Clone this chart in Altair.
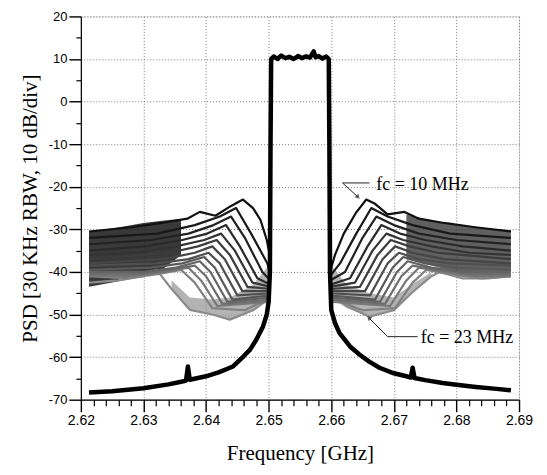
import altair as alt
import pandas as pd

# ---------------- axis values ----------------
X_MAJOR = [2.62, 2.63, 2.64, 2.65, 2.66, 2.67, 2.68, 2.69]
X_MINOR = [2.622, 2.624, 2.626, 2.628, 2.632, 2.634, 2.636, 2.638,
           2.642, 2.644, 2.646, 2.648, 2.652, 2.654, 2.656, 2.658,
           2.662, 2.664, 2.666, 2.668, 2.672, 2.674, 2.676, 2.678,
           2.682, 2.684, 2.686, 2.688]
Y_MAJOR = [-70, -60, -50, -40, -30, -20, -10, 0, 10, 20]
Y_MINOR = [-65, -55, -45, -35, -25, -15, -5, 5, 15]

# ---------------- main PSD (black) ----------------
MAIN_X = [2.6213, 2.6250, 2.6300, 2.6340, 2.6360, 2.6368, 2.6371, 2.6374, 2.6400, 2.6420,
          2.6443, 2.6460, 2.6470, 2.6480, 2.6491, 2.6497, 2.6500, 2.6502, 2.6503, 2.6504,
          2.6508, 2.6514, 2.6520, 2.6527, 2.6533, 2.6540, 2.6547, 2.6553, 2.6560, 2.6566,
          2.6572, 2.6575, 2.6580, 2.6586, 2.6592, 2.6596,
          2.6597, 2.6598, 2.6600, 2.6606, 2.6613, 2.6630, 2.6645, 2.6660, 2.6677, 2.6700,
          2.6720, 2.6727, 2.6730, 2.6733, 2.6750, 2.6778, 2.6800, 2.6831, 2.6860, 2.6887]
MAIN_Y = [-68.3, -68.0, -67.3, -66.4, -65.8, -65.5, -62.2, -65.3, -64.5, -63.6,
          -62.2, -59.8, -58.3, -56.0, -52.8, -50.0, -47.0, -40.0, -10.0, 10.0,
          10.6, 10.0, 10.8, 10.2, 10.5, 10.0, 10.7, 10.2, 10.6, 10.3,
          11.8, 10.4, 10.7, 10.1, 10.6, 10.0,
          -10.0, -40.0, -48.9, -52.0, -54.3, -57.5, -59.4, -61.0, -62.5, -63.8,
          -64.5, -64.8, -62.5, -64.9, -65.4, -66.1, -66.5, -67.0, -67.4, -67.8]

# ---------------- spectra for fc = 10 ... 23 MHz (right side) ----------------
RIGHT = {
    10: ([2.6598, 2.6606, 2.6620, 2.6640, 2.6656, 2.6670, 2.6690, 2.6717, 2.6740, 2.6780, 2.6830, 2.6887],
         [-40, -36, -31, -26, -23, -24, -26.5, -25.9, -27.5, -28.5, -29.5, -30.5]),
    11: ([2.6598, 2.6614, 2.6640, 2.6664, 2.6690, 2.6730, 2.6790, 2.6887],
         [-41, -38, -31, -25, -27, -29, -31, -32]),
    12: ([2.6598, 2.6622, 2.6650, 2.6672, 2.6700, 2.6740, 2.6800, 2.6887],
         [-42, -40, -32, -27, -29, -31, -32.5, -33.5]),
    13: ([2.6598, 2.6630, 2.6658, 2.6680, 2.6710, 2.6750, 2.6810, 2.6887],
         [-43, -41.5, -34, -29, -31, -32.5, -34, -35]),
    14: ([2.6598, 2.6638, 2.6666, 2.6688, 2.6715, 2.6760, 2.6820, 2.6887],
         [-43.5, -42.5, -35, -31, -32.5, -34, -35.5, -36]),
    15: ([2.6598, 2.6646, 2.6674, 2.6695, 2.6725, 2.6770, 2.6887],
         [-44, -43.5, -36, -32.5, -34, -35.5, -37]),
    16: ([2.6598, 2.6654, 2.6682, 2.6702, 2.6730, 2.6780, 2.6887],
         [-44.5, -44.5, -37, -34, -35.5, -37, -38]),
    17: ([2.6598, 2.6662, 2.6690, 2.6708, 2.6740, 2.6790, 2.6887],
         [-45, -45.5, -38, -35.5, -37, -38, -38.5]),
    18: ([2.6598, 2.6670, 2.6698, 2.6715, 2.6750, 2.6800, 2.6887],
         [-45.5, -46.5, -39, -36.5, -38, -39, -39.5]),
    19: ([2.6598, 2.6678, 2.6705, 2.6722, 2.6760, 2.6810, 2.6887],
         [-46, -47, -40, -37.5, -39, -40, -40]),
    20: ([2.6598, 2.6686, 2.6712, 2.6730, 2.6770, 2.6820, 2.6887],
         [-46.5, -47.5, -41, -38.5, -39.5, -40.5, -40.5]),
    21: ([2.6598, 2.6694, 2.6720, 2.6740, 2.6780, 2.6830, 2.6887],
         [-47, -48, -42, -39, -40, -41, -41]),
    22: ([2.6598, 2.6650, 2.6702, 2.6730, 2.6752, 2.6790, 2.6840, 2.6887],
         [-46, -49, -48.5, -42.5, -39.5, -40.5, -41.5, -41]),
    23: ([2.6598, 2.6625, 2.6661, 2.6700, 2.6728, 2.6760, 2.6773, 2.6810, 2.6850, 2.6887],
         [-45, -48, -50.5, -49, -45, -41, -40, -41.5, -41.5, -41]),
}

# ---------------- spectra for fc = 10 ... 23 MHz (left side) ----------------
LEFT = {
    10: ([2.6213, 2.6280, 2.6330, 2.6370, 2.6390, 2.6415, 2.6440, 2.6459, 2.6475, 2.6487, 2.6497, 2.6503],
         [-30.5, -29.5, -28.5, -27.5, -25.9, -26.8, -24.5, -23, -25, -27.8, -32.5, -37]),
    11: ([2.6213, 2.6322, 2.6382, 2.6422, 2.6448, 2.6472, 2.6498, 2.6503],
         [-32, -31, -29, -27, -25, -31, -38, -41]),
    12: ([2.6213, 2.6312, 2.6372, 2.6412, 2.6440, 2.6462, 2.6490, 2.6503],
         [-33.5, -32.5, -31, -29, -27, -32, -40, -42]),
    13: ([2.6213, 2.6302, 2.6362, 2.6402, 2.6432, 2.6454, 2.6482, 2.6503],
         [-35, -34, -32.5, -31, -29, -34, -41.5, -43]),
    14: ([2.6213, 2.6292, 2.6352, 2.6397, 2.6424, 2.6446, 2.6474, 2.6503],
         [-36, -35.5, -34, -32.5, -31, -35, -42.5, -43.5]),
    15: ([2.6213, 2.6342, 2.6387, 2.6417, 2.6438, 2.6466, 2.6503],
         [-37, -35.5, -34, -32.5, -36, -43.5, -44]),
    16: ([2.6213, 2.6332, 2.6382, 2.6410, 2.6430, 2.6458, 2.6503],
         [-38, -37, -35.5, -34, -37, -44.5, -44.5]),
    17: ([2.6213, 2.6322, 2.6372, 2.6404, 2.6422, 2.6450, 2.6503],
         [-38.5, -38, -37, -35.5, -38, -45.5, -45]),
    18: ([2.6213, 2.6312, 2.6362, 2.6397, 2.6414, 2.6442, 2.6503],
         [-39.5, -39, -38, -36.5, -39, -46.5, -45.5]),
    19: ([2.6213, 2.6302, 2.6352, 2.6390, 2.6407, 2.6434, 2.6503],
         [-40, -40, -39, -37.5, -40, -47, -46]),
    20: ([2.6213, 2.6292, 2.6342, 2.6382, 2.6400, 2.6426, 2.6503],
         [-40.5, -40.5, -39.5, -38.5, -41, -47.5, -46.5]),
    21: ([2.6213, 2.6282, 2.6332, 2.6372, 2.6392, 2.6418, 2.6503],
         [-41, -41, -40, -39, -42, -48, -47]),
    22: ([2.6213, 2.6272, 2.6322, 2.6360, 2.6382, 2.6410, 2.6462, 2.6503],
         [-41, -41.5, -40.5, -39.5, -42.5, -48.5, -49, -46]),
    23: ([2.6213, 2.6260, 2.6300, 2.6321, 2.6345, 2.6374, 2.6410, 2.6438, 2.6475, 2.6503],
         [-42.5, -42, -41, -39.5, -44, -48.9, -50, -51.2, -49, -46]),
}

# ---------------- dense noise bands ----------------
BAND_LEFT_X = [2.6213, 2.6250, 2.6300, 2.6330, 2.6360]
BAND_LEFT_HI = [-30.5, -29.8, -28.5, -28.0, -27.5]
BAND_LEFT_LO = [-43.5, -42.5, -41.0, -39.5, -36.0]
BAND_RIGHT_X = [2.6720, 2.6760, 2.6800, 2.6850, 2.6887]
BAND_RIGHT_HI = [-26.5, -28.0, -29.0, -29.8, -30.2]
BAND_RIGHT_LO = [-37.0, -38.5, -40.0, -40.5, -40.0]
LOW_RIGHT_X = [2.6598, 2.6625, 2.6661, 2.6700, 2.6728, 2.6760]
LOW_RIGHT_HI = [-38, -43, -45, -46, -43, -40]
LOW_RIGHT_LO = [-46, -48.5, -50.5, -49, -45, -41]
LOW_LEFT_X = [2.6345, 2.6374, 2.6410, 2.6438, 2.6475, 2.6503]
LOW_LEFT_HI = [-42, -46, -46.5, -46, -43, -38]
LOW_LEFT_LO = [-44, -48.9, -50, -51.2, -49, -46]

# ---------------- annotations ----------------
LABELS = ["fc = 10 MHz", "fc = 23 MHz"]
LABEL_X = [2.6672, 2.6743]
LABEL_Y = [-19.6, -55.4]
LEADER_10_X = [2.6661, 2.6618, 2.6642]
LEADER_10_Y = [-19.1, -19.1, -22.3]
LEADER_23_X = [2.6738, 2.6690, 2.6661]
LEADER_23_Y = [-55.2, -55.2, -50.9]
ARROW_X = [2.6642, 2.6661]
ARROW_Y = [-22.3, -50.9]
ARROW_ANGLE = [137, 315]

# ---------------- tables ----------------
rows = []
for side, d in (("R", RIGHT), ("L", LEFT)):
    for fc, (xs, ys) in d.items():
        for i, (xv, yv) in enumerate(zip(xs, ys)):
            rows.append({"id": f"{side}{fc}", "fc": fc, "i": i, "x": xv, "y": yv})
traces = pd.DataFrame(rows)
traces = traces.sort_values(["fc", "id", "i"], ascending=[False, True, True])

main_df = pd.DataFrame({"x": MAIN_X, "y": MAIN_Y, "i": list(range(len(MAIN_X)))})

band_rows = []
for g, xs, hi, lo, col in (("bl", BAND_LEFT_X, BAND_LEFT_HI, BAND_LEFT_LO, "dark"),
                            ("br", BAND_RIGHT_X, BAND_RIGHT_HI, BAND_RIGHT_LO, "mid"),
                            ("lr", LOW_RIGHT_X, LOW_RIGHT_HI, LOW_RIGHT_LO, "light"),
                            ("ll", LOW_LEFT_X, LOW_LEFT_HI, LOW_LEFT_LO, "light")):
    for xv, h, l in zip(xs, hi, lo):
        band_rows.append({"grp": g, "shade": col, "x": xv, "y": l, "y2": h})
bands = pd.DataFrame(band_rows)

lead_rows = []
for g, xs, ys in (("a", LEADER_10_X, LEADER_10_Y), ("b", LEADER_23_X, LEADER_23_Y)):
    for i, (xv, yv) in enumerate(zip(xs, ys)):
        lead_rows.append({"grp": g, "i": i, "x": xv, "y": yv})
leaders = pd.DataFrame(lead_rows)
arrows = pd.DataFrame({"x": ARROW_X, "y": ARROW_Y, "ang": ARROW_ANGLE})
labels = pd.DataFrame({"x": LABEL_X, "y": LABEL_Y, "t": LABELS})

# ---------------- scales / axes ----------------
xs_ = alt.Scale(domain=[2.62, 2.69], nice=False, zero=False)
ys_ = alt.Scale(domain=[-70, 20], nice=False, zero=False)
xaxis = alt.Axis(values=X_MAJOR, format=".2f", title="Frequency [GHz]", orient="bottom",
                 labelFont="Liberation Sans", labelFontSize=14, labelColor="black", labelFlush=False,
                 ticks=True, tickSize=12, tickColor="black", tickWidth=1.4,
                 domainColor="black", domainWidth=1.2, labelPadding=2,
                 titleFont="Liberation Serif", titleFontSize=21, titleFontWeight="normal",
                 titleColor="black", titlePadding=15,
                 grid=True, gridColor="#7a7a7a", gridDash=[1, 2], gridWidth=1)
yaxis = alt.Axis(values=Y_MAJOR, format="d", title="PSD [30 KHz RBW, 10 dB/div]", orient="left",
                 labelFont="Liberation Sans", labelFontSize=13, labelColor="black", labelFlush=False,
                 labelExpr="replace(datum.label, '\u2212', '-')",
                 ticks=True, tickSize=12, tickColor="black", tickWidth=1.4,
                 domainColor="black", domainWidth=1.2, labelPadding=2,
                 titleFont="Liberation Serif", titleFontSize=21, titleFontWeight="normal",
                 titleColor="black", titlePadding=8,
                 grid=True, gridColor="#7a7a7a", gridDash=[1, 2], gridWidth=1)

X = alt.X("x:Q", scale=xs_, axis=xaxis)
Y = alt.Y("y:Q", scale=ys_, axis=yaxis)

band_layer = alt.Chart(bands).mark_area(interpolate="linear").encode(
    x=X, y=Y, y2="y2:Q", detail="grp:N",
    color=alt.Color("shade:N", scale=alt.Scale(domain=["dark", "mid", "light"],
                                               range=["#1e1e1e", "#3c3c3c", "#9a9a9a"]), legend=None),
    opacity=alt.Opacity("shade:N", scale=alt.Scale(domain=["dark", "mid", "light"],
                                                   range=[0.88, 0.75, 0.5]), legend=None),
)

trace_layer = alt.Chart(traces).mark_line(strokeWidth=2.2, strokeJoin="round").encode(
    x=X, y=Y, detail="id:N", order="i:Q",
    color=alt.Color("fc:Q", scale=alt.Scale(domain=[10, 23], range=["#101010", "#8c8c8c"]), legend=None),
)

main_layer = alt.Chart(main_df).mark_line(color="black", strokeWidth=4.5, strokeJoin="round").encode(
    x=X, y=Y, order="i:Q")

leader_layer = alt.Chart(leaders).mark_line(color="#222222", strokeWidth=1).encode(
    x=X, y=Y, detail="grp:N", order="i:Q")

arrow_layer = alt.Chart(arrows).mark_point(shape="triangle", filled=True, color="#222222", size=28).encode(
    x=X, y=Y, angle=alt.Angle("ang:Q", scale=None))

text_layer = alt.Chart(labels).mark_text(align="left", baseline="middle", font="Liberation Serif",
                                         fontSize=18, color="black").encode(
    x=X, y=Y, text="t:N")

base = alt.layer(band_layer, trace_layer, main_layer, leader_layer, arrow_layer, text_layer)

minor_df = pd.DataFrame({"x": X_MINOR[:len(Y_MINOR)], "y": Y_MINOR})
minor_layer = alt.Chart(minor_df).mark_point(opacity=0).encode(
    x=alt.X("x:Q", scale=xs_, axis=alt.Axis(values=X_MINOR, orient="bottom", labels=False, grid=False,
                                             domain=False, ticks=True, tickSize=6, tickColor="black",
                                             tickWidth=1.2, title=None)),
    y=alt.Y("y:Q", scale=ys_, axis=alt.Axis(values=Y_MINOR, orient="left", labels=False, grid=False,
                                             domain=False, ticks=True, tickSize=5, tickColor="black",
                                             tickWidth=1.2, title=None)),
)

chart = alt.layer(base, minor_layer).resolve_axis(x="independent", y="independent").properties(
    width=439, height=384,
    autosize=alt.AutoSizeParams(type="none"),
    padding={"left": 73, "top": 8, "right": 20, "bottom": 68},
).configure_view(stroke="#222222", strokeWidth=1).configure(background="white")

chart.save("out.html", embed_options={"renderer": "svg", "actions": False})
